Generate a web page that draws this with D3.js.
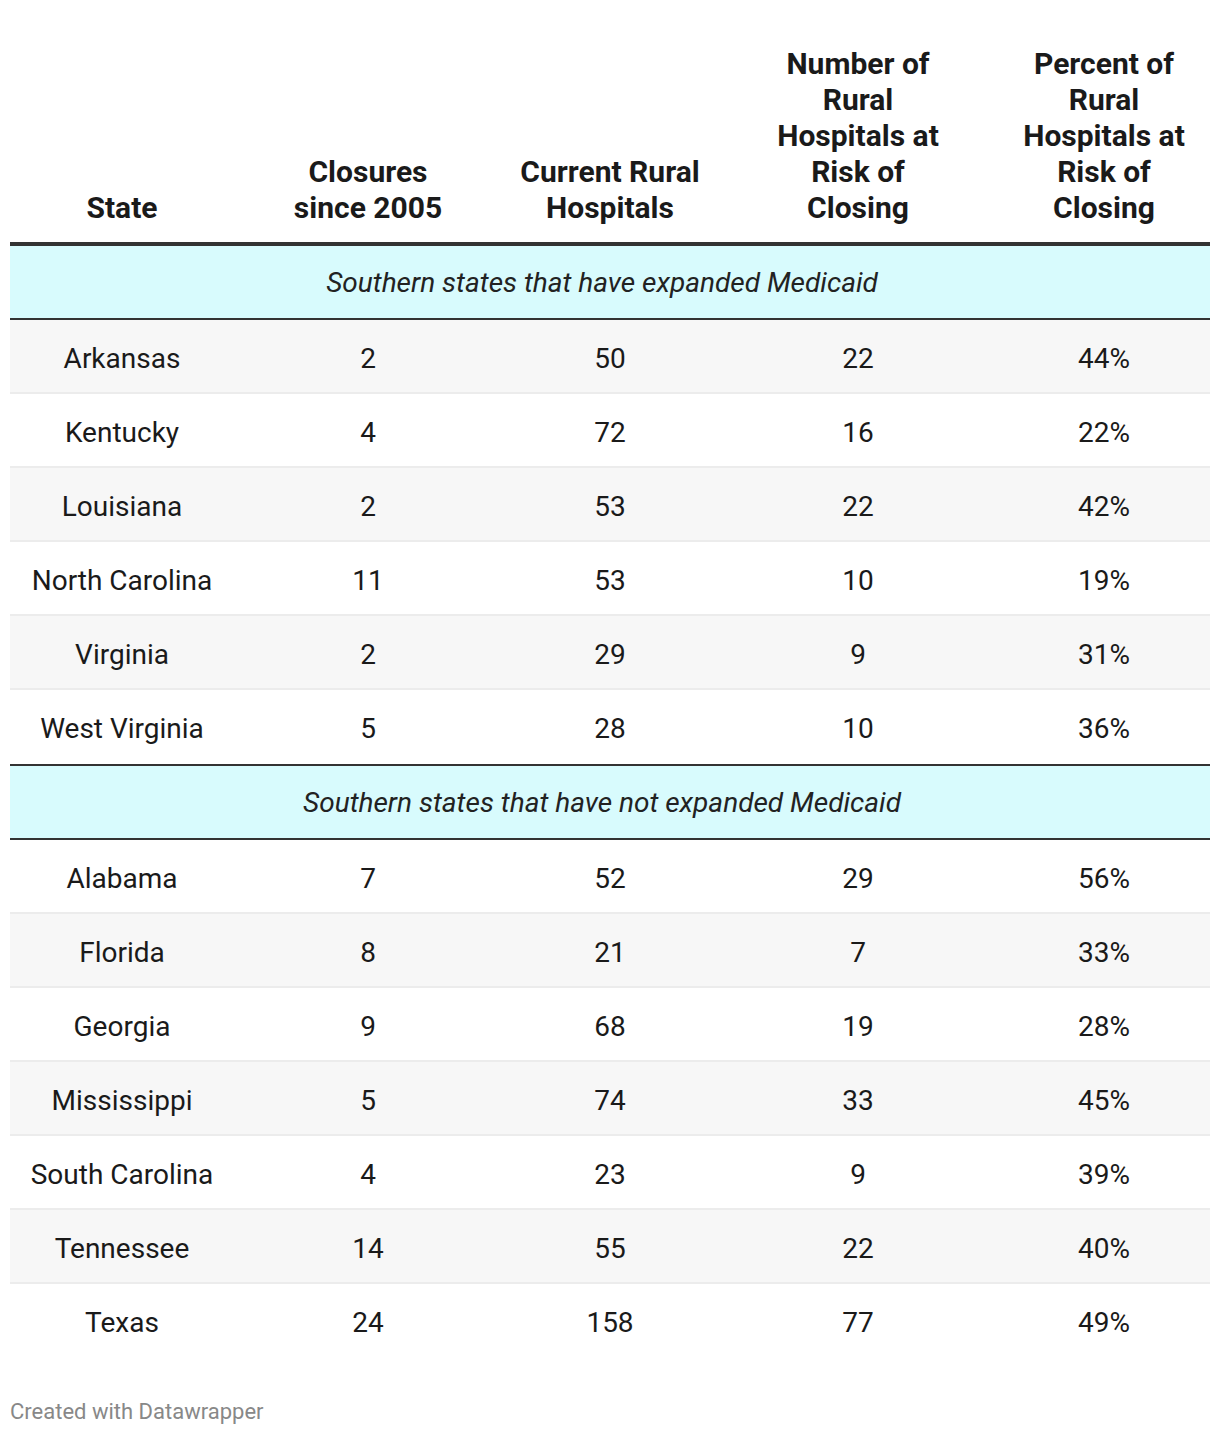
<!DOCTYPE html>
<html><head><meta charset="utf-8">
<script src="https://cdn.jsdelivr.net/npm/d3@7"></script>
<style>
html,body{margin:0;padding:0;background:#fff;}
svg{display:block;font-family:Roboto,"Noto Sans",sans-serif;}
</style></head><body>
<svg id="chart" width="1220" height="1434"></svg>
<script>
// ---- data ----
const columns = ["State", "Closures\nsince 2005", "Current Rural\nHospitals", "Number of\nRural\nHospitals at\nRisk of\nClosing", "Percent of\nRural\nHospitals at\nRisk of\nClosing"];
const groups = ["Southern states that have expanded Medicaid", "Southern states that have not expanded Medicaid"];
const states1 = ["Arkansas", "Kentucky", "Louisiana", "North Carolina", "Virginia", "West Virginia"];
const closures1 = [2, 4, 2, 11, 2, 5];
const current1 = [50, 72, 53, 53, 29, 28];
const atRisk1 = [22, 16, 22, 10, 9, 10];
const pctRisk1 = [44, 22, 42, 19, 31, 36];
const states2 = ["Alabama", "Florida", "Georgia", "Mississippi", "South Carolina", "Tennessee", "Texas"];
const closures2 = [7, 8, 9, 5, 4, 14, 24];
const current2 = [52, 21, 68, 74, 23, 55, 158];
const atRisk2 = [29, 7, 19, 33, 9, 22, 77];
const pctRisk2 = [56, 33, 28, 45, 39, 40, 49];
const footer = "Created with Datawrapper";

// ---- layout ----
const svg = d3.select("#chart");
const left = 10, right = 1210;
const colEdges = [10, 234, 502, 718, 998, 1210];
const x = d3.scaleOrdinal().domain(d3.range(columns.length)).range(d3.range(columns.length).map(i => (colEdges[i] + colEdges[i + 1]) / 2));
const headerBottom = 243, headerLine = 36;
const rowH = 74, groupH = 72;

const rows = [];
const grpData = [
  {name: groups[0], s: states1, c: [closures1, current1, atRisk1, pctRisk1]},
  {name: groups[1], s: states2, c: [closures2, current2, atRisk2, pctRisk2]}
];
let idx = 0;
grpData.forEach(g => {
  rows.push({type: "group", label: g.name, idx: idx++});
  g.s.forEach((st, i) => rows.push({type: "row", cells: [st, g.c[0][i], g.c[1][i], g.c[2][i], g.c[3][i] + "%"], idx: idx++}));
});

// header
const hdr = svg.append("g");
columns.forEach((c, i) => {
  const lines = c.split("\n");
  const t = hdr.append("text").attr("x", x(i)).attr("text-anchor", "middle")
    .attr("font-weight", 700).attr("font-size", 30).attr("fill", "#1a1a1a");
  lines.forEach((ln, j) => {
    t.append("tspan").attr("x", x(i))
      .attr("y", 207 - (lines.length - 1 - j) * headerLine).attr("dy", "0.35em").text(ln);
  });
});
svg.append("rect").attr("x", left).attr("y", headerBottom - 1).attr("width", right - left).attr("height", 4).attr("fill", "#333");

// rows
const rg = svg.append("g");
let yCur = headerBottom + 3;
rows.forEach((r, k) => {
  const prev = rows[k - 1];
  const next = rows[k + 1];
  if (r.type === "group") {
    if (prev && prev.type === "row") {
      rg.append("rect").attr("x", left).attr("y", yCur).attr("width", right - left).attr("height", 2).attr("fill", "#333");
      yCur += 2;
    }
    rg.append("rect").attr("x", left).attr("y", yCur).attr("width", right - left).attr("height", groupH).attr("fill", "#d8fbfd");
    rg.append("rect").attr("x", left).attr("y", yCur + groupH).attr("width", right - left).attr("height", 2).attr("fill", "#333");
    rg.append("text").attr("x", (left + right) / 2 - 8).attr("y", yCur + groupH / 2).attr("dy", "0.35em")
      .attr("text-anchor", "middle").attr("font-style", "italic").attr("font-size", 28).attr("fill", "#222").text(r.label);
    yCur += groupH + 2;
  } else {
    rg.append("rect").attr("x", left).attr("y", yCur).attr("width", right - left).attr("height", rowH)
      .attr("fill", r.idx % 2 === 1 ? "#f7f7f7" : "#ffffff");
    if (next && next.type === "row") {
      rg.append("rect").attr("x", left).attr("y", yCur + rowH - 2).attr("width", right - left).attr("height", 2).attr("fill", "#ececec");
    }
    r.cells.forEach((v, i) => {
      rg.append("text").attr("x", x(i)).attr("y", yCur + rowH / 2 + 1).attr("dy", "0.35em")
        .attr("text-anchor", "middle").attr("font-size", 28).attr("fill", "#1a1a1a").text(v);
    });
    yCur += rowH;
  }
});

svg.append("text").attr("x", 10).attr("y", 1411).attr("dy", "0.35em").attr("font-size", 22).attr("fill", "#888").text(footer);
</script>
</body></html>
